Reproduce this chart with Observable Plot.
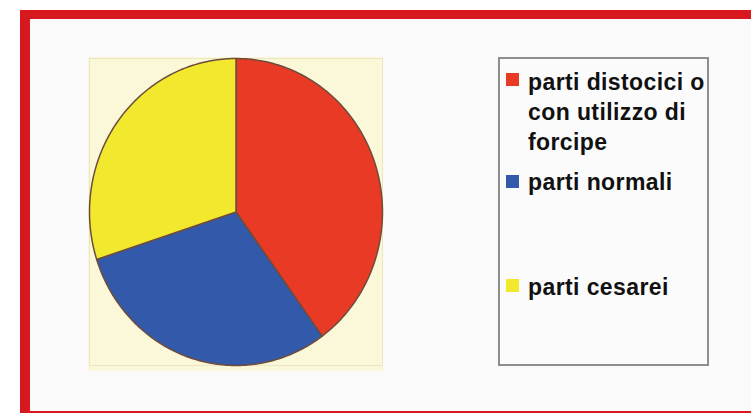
<!DOCTYPE html>
<html>
<head>
<meta charset="utf-8">
<script src="https://cdn.jsdelivr.net/npm/d3@7"></script>
<script src="https://cdn.jsdelivr.net/npm/@observablehq/plot@0.6"></script>
<style>
  html, body { margin: 0; padding: 0; background: #ffffff; width: 751px; height: 413px; overflow: hidden; }
  #frame { position: absolute; left: 20px; top: 10px; width: 760px; height: 392px;
           border-left: 10px solid #d7191f; border-top: 9px solid #d7191f; border-bottom: 9px solid #d7191f;
           background: #fafafa; }
  #pie { position: absolute; left: 88px; top: 57px; }
  #legend { position: absolute; left: 498px; top: 57px; width: 207px; height: 305px;
            border: 2px solid #8e8e8e; background: #fbfbfb;
            font-family: "Liberation Sans", Arial, sans-serif; font-weight: bold; font-size: 23px; color: #111111; }
  .item { position: absolute; left: 28px; line-height: 30px; letter-spacing: 0.4px; white-space: nowrap; }
  .sw { position: absolute; left: 6px; width: 13px; height: 13px; }
</style>
</head>
<body>
<div id="frame"></div>
<div id="pie"></div>
<div id="legend"></div>
<script>
const categories = ["parti distocici o con utilizzo di forcipe", "parti normali", "parti cesarei"];
const legendLines = [["parti distocici o", "con utilizzo di", "forcipe"], ["parti normali"], ["parti cesarei"]];
const values = [40, 30, 30];
const colors = ["#e93a25", "#3259aa", "#f2e92f"];

// slice polygons from d3.pie angles (geometry only)
const arcs = d3.pie().sort(null).value(d => d)(values);
const pts = [];
arcs.forEach((a, i) => {
  const cat = categories[i];
  pts.push({cat, x: 0, y: 0});
  const n = 120;
  for (let k = 0; k <= n; k++) {
    const t = a.startAngle + (a.endAngle - a.startAngle) * k / n;
    pts.push({cat, x: Math.sin(t), y: Math.cos(t)});
  }
  pts.push({cat, x: 0, y: 0});
});

const chart = Plot.plot({
  width: 295,
  height: 314,
  marginLeft: 1, marginRight: 1, marginTop: 1, marginBottom: 6,
  x: {domain: [-1, 1], axis: null},
  y: {domain: [-1, 1], axis: null},
  color: {domain: categories, range: colors},
  style: {background: "#fbf8da", overflow: "visible"},
  marks: [
    Plot.frame({stroke: "#ece6c0", strokeWidth: 1}),
    Plot.line(pts, {x: "x", y: "y", z: "cat", fill: "cat", stroke: "#6e4c3c", strokeWidth: 1.5, curve: "linear"})
  ]
});
document.getElementById("pie").appendChild(chart);

// legend
const legend = document.getElementById("legend");
const swTops = [14, 116, 220];
const lineTops = [[8, 38, 68], [108], [213]];
legendLines.forEach((lines, i) => {
  const sw = document.createElement("div");
  sw.className = "sw";
  sw.style.top = swTops[i] + "px";
  sw.style.background = colors[i];
  legend.appendChild(sw);
  lines.forEach((ln, j) => {
    const d = document.createElement("div");
    d.className = "item";
    d.style.top = lineTops[i][j] + "px";
    d.textContent = ln;
    legend.appendChild(d);
  });
});
</script>
</body>
</html>
